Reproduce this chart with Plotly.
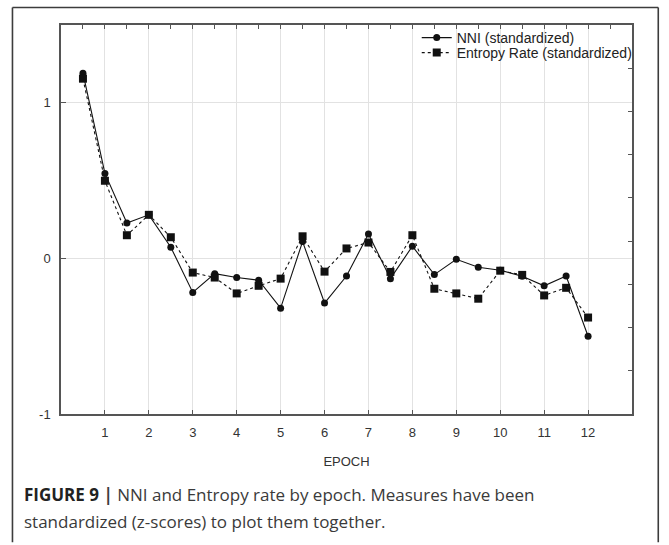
import plotly.graph_objects as go

epochs = [0.5, 1, 1.5, 2, 2.5, 3, 3.5, 4, 4.5, 5, 5.5, 6, 6.5, 7, 7.5, 8,
          8.5, 9, 9.5, 10, 10.5, 11, 11.5, 12]
nni = [1.19, 0.546, 0.227, 0.28, 0.072, -0.219, -0.098, -0.123, -0.14, -0.32,
       0.108, -0.287, -0.113, 0.157, -0.13, 0.078, -0.104, -0.006, -0.057, -0.076,
       -0.115, -0.176, -0.113, -0.50]
entropy = [1.155, 0.499, 0.149, 0.28, 0.136, -0.091, -0.123, -0.225, -0.176, -0.13,
           0.142, -0.085, 0.064, 0.102, -0.087, 0.149, -0.195, -0.225, -0.259, -0.079,
           -0.106, -0.238, -0.189, -0.38]
x_ticks = list(range(1, 13))
y_ticks = [-1, 0, 1]
y_ticktext = ["-1", "0", "1"]

fig = go.Figure()
fig.add_trace(go.Scatter(
    x=epochs, y=nni, mode="lines+markers", name="NNI (standardized)",
    line=dict(color="#111111", width=1.1),
    marker=dict(symbol="circle", size=7, color="#111111"),
    legend="legend",
))
fig.add_trace(go.Scatter(
    x=epochs, y=entropy, mode="lines+markers", name="Entropy Rate (standardized)",
    line=dict(color="#111111", width=1.1, dash="3px,3px"),
    marker=dict(symbol="square", size=8, color="#111111"),
    legend="legend2",
))
# invisible trace so that the mirrored top/right tick axes are drawn
fig.add_trace(go.Scatter(x=[None], y=[None], xaxis="x2", yaxis="y2",
                         showlegend=False, hoverinfo="skip"))

axis_color = "#555555"
base_font = "Liberation Sans, Arial, sans-serif"
tick_font = dict(family=base_font, size=13, color="#333333")
leg_font = dict(family=base_font, size=14, color="#222222")

fig.update_layout(
    width=669, height=545,
    margin=dict(l=61, r=37, t=25, b=131),
    paper_bgcolor="white", plot_bgcolor="white",
    font=tick_font,
    showlegend=True,
    legend=dict(x=0.623, y=0.9666, xanchor="left", yanchor="middle",
                bgcolor="rgba(0,0,0,0)", borderwidth=0, font=leg_font, itemwidth=30),
    legend2=dict(x=0.623, y=0.928, xanchor="left", yanchor="middle",
                 bgcolor="rgba(0,0,0,0)", borderwidth=0, font=leg_font, itemwidth=30),
    xaxis=dict(range=[0, 13], tickvals=x_ticks, ticks="inside", ticklen=4,
               tickcolor=axis_color, showline=True, linecolor=axis_color, linewidth=1.5,
               showgrid=True, gridcolor="#e2e2e2", gridwidth=1, zeroline=False,
               title=dict(text="EPOCH", font=dict(size=13, color="#333333"), standoff=18),
               ticklabelstandoff=6),
    yaxis=dict(range=[-1, 1.5], tickvals=y_ticks, ticktext=y_ticktext, ticks="inside",
               ticklen=5, tickcolor=axis_color, showline=True, linecolor=axis_color,
               linewidth=1.5, showgrid=True, gridcolor="#e2e2e2", gridwidth=1,
               zeroline=False, ticklabelstandoff=6),
    xaxis2=dict(overlaying="x", side="top", range=[0, 13], dtick=0.5, tick0=0,
                ticks="inside", ticklen=4, tickcolor=axis_color, showticklabels=False,
                showline=True, linecolor=axis_color, linewidth=1.5, showgrid=False,
                zeroline=False, anchor="y"),
    yaxis2=dict(overlaying="y", side="right", range=[0, 9], dtick=1, tick0=0,
                ticks="inside", ticklen=4, tickcolor=axis_color, showticklabels=False,
                showline=True, linecolor=axis_color, linewidth=1.5, showgrid=False,
                zeroline=False, anchor="x"),
)

# outer figure frame (left, top, right edges; bottom runs off the page)
frame_line = dict(color="#3c3c3c", width=1.6)
fx0, fx1, fy0, fy1 = -0.085, 1.046, -0.33, 1.045
fig.add_shape(type="line", xref="paper", yref="paper", x0=fx0, x1=fx0, y0=fy0, y1=fy1,
              line=frame_line, layer="above")
fig.add_shape(type="line", xref="paper", yref="paper", x0=fx0, x1=fx1, y0=fy1, y1=fy1,
              line=frame_line, layer="above")
fig.add_shape(type="line", xref="paper", yref="paper", x0=fx1, x1=fx1, y0=fy0, y1=fy1,
              line=frame_line, layer="above")

cap_font = dict(family="Open Sans, Liberation Sans, sans-serif", size=17, color="#3a3a3a")
fig.add_annotation(xref="paper", yref="paper", x=-0.068, y=-0.208,
                   xanchor="left", yanchor="middle", showarrow=False,
                   text="<b><span style='color:#222222'>FIGURE 9</span> | </b>NNI and Entropy rate by epoch. Measures have been",
                   font=cap_font)
fig.add_annotation(xref="paper", yref="paper", x=-0.068, y=-0.276,
                   xanchor="left", yanchor="middle", showarrow=False,
                   text="standardized (z-scores) to plot them together.",
                   font=cap_font)

fig.write_html("out.html", config={"displayModeBar": False},
               post_script="document.body.style.margin='0';")
